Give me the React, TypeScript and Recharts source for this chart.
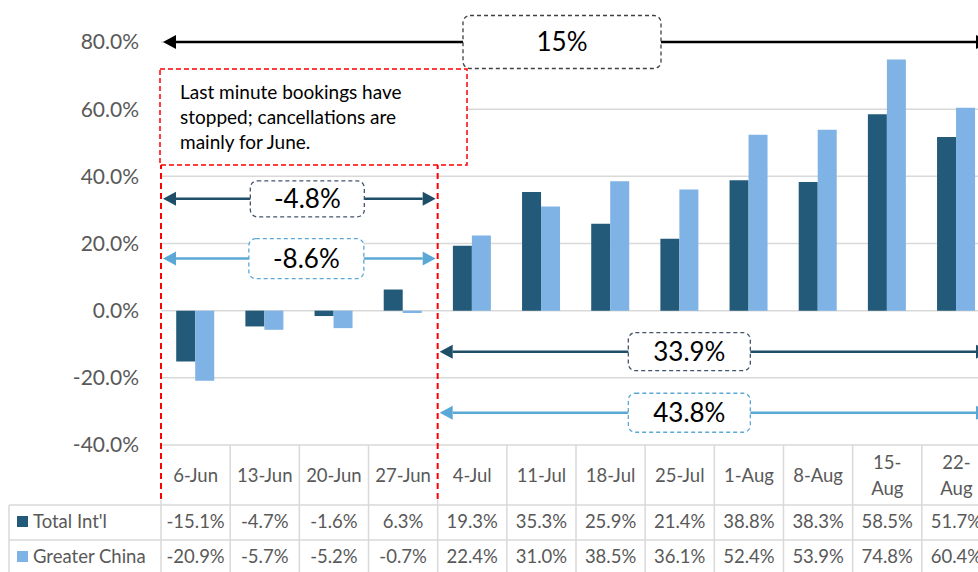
import { BarChart, Bar, XAxis, YAxis, CartesianGrid, ReferenceArea } from "recharts";

const weeks = ["6-Jun", "13-Jun", "20-Jun", "27-Jun", "4-Jul", "11-Jul", "18-Jul", "25-Jul", "1-Aug", "8-Aug", "15-Aug", "22-Aug"];
const totalIntl = [-15.1, -4.7, -1.6, 6.3, 19.3, 35.3, 25.9, 21.4, 38.8, 38.3, 58.5, 51.7];
const greaterChina = [-20.9, -5.7, -5.2, -0.7, 22.4, 31.0, 38.5, 36.1, 52.4, 53.9, 74.8, 60.4];
const yTicks = [-40, -20, 0, 20, 40, 60, 80];
const noteStart = "6-Jun";
const noteEnd = "27-Jun";

const DARK = "#235A79";
const LIGHT = "#7FB2E5";
const GRID = "#D9D9D9";
const TXT = "#595959";
const FONT = "Lato, 'Open Sans', sans-serif";

const data = weeks.map((w, i) => ({ week: w, total: totalIntl[i], china: greaterChina[i] }));

// layout
const W = 1000;
const H = 572;
const PLOT_L = 161;
const PLOT_R = 991;
const PLOT_B = 445;
const BAND = (PLOT_R - PLOT_L) / weeks.length;
const ROW1 = 505;
const ROW2 = 540;
const RED_END = 500;

const fmt = (v: number) => `${v.toFixed(1)}%`;

const TableTick = (props: any) => {
  const { x, payload, index } = props;
  const l = x - BAND / 2;
  const r = x + BAND / 2;
  const label: string = payload.value;
  const parts = label.startsWith("15-") || label.startsWith("22-") ? [label.split("-")[0] + "-", label.split("-")[1]] : [label];
  const rTop = label === noteEnd ? RED_END : PLOT_B;
  return (
    <g fontFamily={FONT} fill={TXT}>
      <line x1={r} x2={r} y1={rTop} y2={H + 5} stroke={GRID} strokeWidth={1.5} />
      {index === 0 && (
        <g>
          <line x1={l} x2={l} y1={label === noteStart ? RED_END : PLOT_B} y2={H + 5} stroke={GRID} strokeWidth={1.5} />
          <line x1={9} x2={l} y1={ROW1} y2={ROW1} stroke={GRID} strokeWidth={1.5} />
          <line x1={9} x2={l} y1={ROW2} y2={ROW2} stroke={GRID} strokeWidth={1.5} />
          <line x1={9} x2={9} y1={ROW1} y2={H + 5} stroke={GRID} strokeWidth={1.5} />
          <rect x={17} y={516} width={11} height={11} fill={DARK} />
          <text x={33} y={528} fontSize={18.5} fill={TXT}>Total Int'l</text>
          <rect x={17} y={551} width={11} height={11} fill={LIGHT} />
          <text x={33} y={563} fontSize={18.5} fill={TXT}>Greater China</text>
        </g>
      )}
      <line x1={l} x2={r} y1={ROW1} y2={ROW1} stroke={GRID} strokeWidth={1.5} />
      <line x1={l} x2={r} y1={ROW2} y2={ROW2} stroke={GRID} strokeWidth={1.5} />
      {parts.length === 1 ? (
        <text x={x} y={482} textAnchor="middle" fontSize={18.5}>{parts[0]}</text>
      ) : (
        <text textAnchor="middle" fontSize={18.5}>
          <tspan x={x} y={469}>{parts[0]}</tspan>
          <tspan x={x} y={495}>{parts[1]}</tspan>
        </text>
      )}
      <text x={x} y={528} textAnchor="middle" fontSize={18.5}>{fmt(totalIntl[index])}</text>
      <text x={x} y={563} textAnchor="middle" fontSize={18.5}>{fmt(greaterChina[index])}</text>
    </g>
  );
};

// annotation arrow with a dashed label box
const arrowShape = (label: string, color: string, boxColor: string, boxW: number, boxH: number, boxDx: number, fontSize: number) =>
  (p: any) => {
    const cy = p.y + p.height / 2;
    const x1 = p.x + 2;
    const x2 = p.x + p.width - 2;
    const cx = p.x + p.width / 2 + boxDx;
    const ah = 13;
    return (
      <g>
        <line x1={x1 + ah} x2={x2 - ah} y1={cy} y2={cy} stroke={color} strokeWidth={2.5} />
        <polygon points={`${x1},${cy} ${x1 + ah},${cy - 7} ${x1 + ah},${cy + 7}`} fill={color} />
        <polygon points={`${x2},${cy} ${x2 - ah},${cy - 7} ${x2 - ah},${cy + 7}`} fill={color} />
        <rect x={cx - boxW / 2} y={cy - boxH / 2} width={boxW} height={boxH} rx={7} fill="#fff" stroke={boxColor} strokeWidth={1.3} strokeDasharray="4 3" />
        <text x={cx} y={cy + fontSize * 0.36} textAnchor="middle" fontSize={fontSize} fontFamily={FONT} fill="#000">{label}</text>
      </g>
    );
  };

const noteShape = (p: any) => {
  const l = p.x;
  const r = p.x + p.width;
  return (
    <g>
      <line x1={l} x2={l} y1={p.y} y2={RED_END} stroke="#FF0000" strokeWidth={2} strokeDasharray="6 4" />
      <line x1={r} x2={r} y1={p.y - 10} y2={RED_END} stroke="#FF0000" strokeWidth={2} strokeDasharray="6 4" />
      <rect x={l - 1} y={69} width={307} height={96} fill="#fff" stroke="#FF0000" strokeWidth={1.5} strokeDasharray="5 3" />
      <text fontSize={19} fontFamily={FONT} fill="#000">
        <tspan x={l + 19} y={99}>Last minute bookings have</tspan>
        <tspan x={l + 19} y={124}>stopped; cancellations are</tspan>
        <tspan x={l + 19} y={149}>mainly for June.</tspan>
      </text>
    </g>
  );
};

export default function App() {
  return (
    <div style={{ position: "absolute", left: 0, top: 0, width: 978, height: 572, overflow: "hidden", background: "#fff" }}>
      <BarChart width={W} height={H} data={data} margin={{ top: 42, right: W - PLOT_R, bottom: 0, left: PLOT_L - 100 }} barCategoryGap="22%" barGap={0}>
        <CartesianGrid vertical={false} stroke={GRID} strokeWidth={1.5} />
        <XAxis dataKey="week" height={H - PLOT_B} interval={0} axisLine={false} tickLine={false} tick={<TableTick />} />
        <YAxis width={100} domain={[-40, 80]} ticks={yTicks} axisLine={false} tickLine={false} tickMargin={16}
          tickFormatter={fmt} tick={{ fill: TXT, fontSize: 21, fontFamily: FONT }} />
        <Bar dataKey="total" fill={DARK} isAnimationActive={false} />
        <Bar dataKey="china" fill={LIGHT} isAnimationActive={false} />
        <ReferenceArea x1={noteStart} x2={noteEnd} y1={44} y2={-40} ifOverflow="visible" shape={noteShape} />
        <ReferenceArea x1="6-Jun" x2="22-Aug" y1={79} y2={81} ifOverflow="visible"
          shape={arrowShape("15%", "#000", "#404040", 198, 53, -14, 26)} />
        <ReferenceArea x1="6-Jun" x2="27-Jun" y1={32.3} y2={34.3} ifOverflow="visible"
          shape={arrowShape("-4.8%", "#1F4E68", "#44546A", 114, 36, 8, 26)} />
        <ReferenceArea x1="6-Jun" x2="27-Jun" y1={14.5} y2={16.5} ifOverflow="visible"
          shape={arrowShape("-8.6%", "#5BA8D6", "#5BA8D6", 115, 40, 7, 26)} />
        <ReferenceArea x1="4-Jul" x2="22-Aug" y1={-11.2} y2={-13.2} ifOverflow="visible"
          shape={arrowShape("33.9%", "#1F4E68", "#44546A", 122, 38, -25, 26)} />
        <ReferenceArea x1="4-Jul" x2="22-Aug" y1={-29.4} y2={-31.4} ifOverflow="visible"
          shape={arrowShape("43.8%", "#5BA8D6", "#5BA8D6", 122, 39, -25, 26)} />
      </BarChart>
    </div>
  );
}
